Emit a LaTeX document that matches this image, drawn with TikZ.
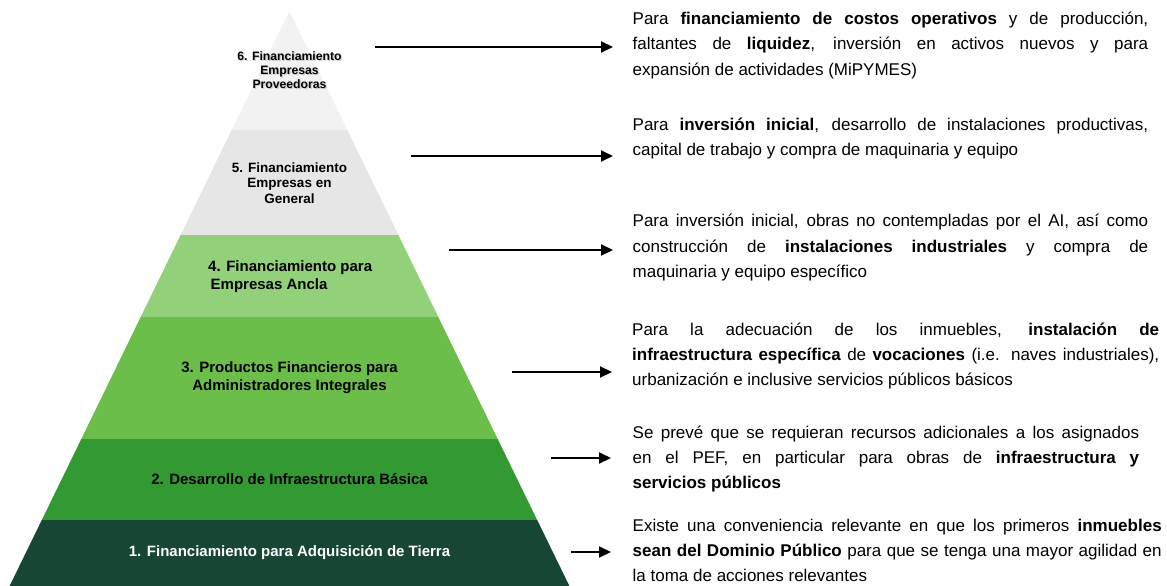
\documentclass[tikz,border=0pt]{standalone}
\usepackage{fontspec}
\setmainfont{Liberation Sans}
\usetikzlibrary{arrows.meta}
\definecolor{layA}{RGB}{23,70,53}
\definecolor{layB}{RGB}{51,153,51}
\definecolor{layC}{RGB}{108,190,74}
\definecolor{layD}{RGB}{146,208,122}
\definecolor{layE}{RGB}{230,230,230}
\definecolor{layF}{RGB}{242,242,242}
\begin{document}
\begin{tikzpicture}[x=1pt,y=-1pt,
  lab/.style={align=center,inner sep=0pt,text=black,font=\fontsize{15}{18}\selectfont\bfseries},
  desc/.style={anchor=base west,inner sep=0pt,align=justify,font=\fontsize{17}{25.3}\selectfont},
  arr/.style={line width=2pt,-{Triangle[length=12pt,width=11pt]}}]
\useasboundingbox (0,0) rectangle (1167,586);
% pyramid layers
\fill[layF] (289.5,11.3) -- (347.3,130) -- (231.7,130) -- cycle;
\fill[layE] (231.7,130) -- (347.3,130) -- (398.4,235) -- (180.6,235) -- cycle;
\fill[layD] (180.6,235) -- (398.4,235) -- (438.3,317) -- (140.7,317) -- cycle;
\fill[layC] (140.7,317) -- (438.3,317) -- (497.7,439) -- (81.3,439) -- cycle;
\fill[layB] (81.3,439) -- (497.7,439) -- (537.2,520) -- (41.8,520) -- cycle;
\fill[layA] (41.8,520) -- (537.2,520) -- (569.4,586) -- (9.6,586) -- cycle;
% layer labels
\node[lab,text=black!30,opacity=0.6,font=\fontsize{12.2}{14}\selectfont\bfseries] (t6s) at (290.7,71.4) {6. Financiamiento\\Empresas\\Proveedoras};
\node[lab,font=\fontsize{12.2}{14}\selectfont\bfseries] (t6) at (289.5,70) {6. Financiamiento\\Empresas\\Proveedoras};
\node[lab,font=\fontsize{13.5}{15.5}\selectfont\bfseries] (t5) at (289.5,183) {5. Financiamiento\\Empresas en\\General};
\node[lab,align=left,anchor=west] (t4) at (208,276.5) {4. Financiamiento para\\\,Empresas Ancla};
\node[lab] (t3) at (289.5,378) {3. Productos Financieros para\\Administradores Integrales};
\node[lab] (t2) at (289.5,479) {2. Desarrollo de Infraestructura Básica};
\node[lab,text=white] (t1) at (289.5,553) {1. Financiamiento para Adquisición de Tierra};
% descriptions
\node[desc,text width=515.5pt] (d6) at (632.5,24.5) {Para \textbf{financiamiento de costos operativos} y de producción,\linebreak faltantes de \textbf{liquidez}, inversión en activos nuevos y para\linebreak expansión de actividades (MiPYMES)};
\node[desc,text width=515.5pt] (d5) at (632.5,130.2) {Para \textbf{inversión inicial}, desarrollo de instalaciones productivas,\linebreak capital de trabajo y compra de maquinaria y equipo};
\node[desc,text width=515.5pt] (d4) at (632.5,226.9) {Para inversión inicial, obras no contempladas por el AI, así como\linebreak construcción de \textbf{instalaciones industriales} y compra de\linebreak maquinaria y equipo específico};
\node[desc,text width=527pt] (d3) at (632,335.2) {Para la adecuación de los inmuebles, \textbf{instalación de}\linebreak \textbf{infraestructura específica} de \textbf{vocaciones} (i.e. naves industriales),\linebreak urbanización e inclusive servicios públicos básicos};
\node[desc,text width=506.5pt] (d2) at (632.5,438.2) {Se prevé que se requieran recursos adicionales a los asignados\linebreak en el PEF, en particular para obras de \textbf{infraestructura y}\linebreak \textbf{servicios públicos}};
\node[desc,text width=529pt] (d1) at (632.5,531.2) {Existe una conveniencia relevante en que los primeros \textbf{inmuebles}\linebreak \textbf{sean del Dominio Público} para que se tenga una mayor agilidad en\linebreak la toma de acciones relevantes};
% arrows
\coordinate (s6) at (375,47);  \coordinate (e6) at (613,47);
\coordinate (s5) at (411,156); \coordinate (e5) at (613,156);
\coordinate (s4) at (449,250); \coordinate (e4) at (613,250);
\coordinate (s3) at (512,372); \coordinate (e3) at (612,372);
\coordinate (s2) at (551,458); \coordinate (e2) at (611,458);
\coordinate (s1) at (571,552); \coordinate (e1) at (611,552);
\draw[arr] (s6) -- (e6);
\draw[arr] (s5) -- (e5);
\draw[arr] (s4) -- (e4);
\draw[arr] (s3) -- (e3);
\draw[arr] (s2) -- (e2);
\draw[arr] (s1) -- (e1);
\end{tikzpicture}
\end{document}
